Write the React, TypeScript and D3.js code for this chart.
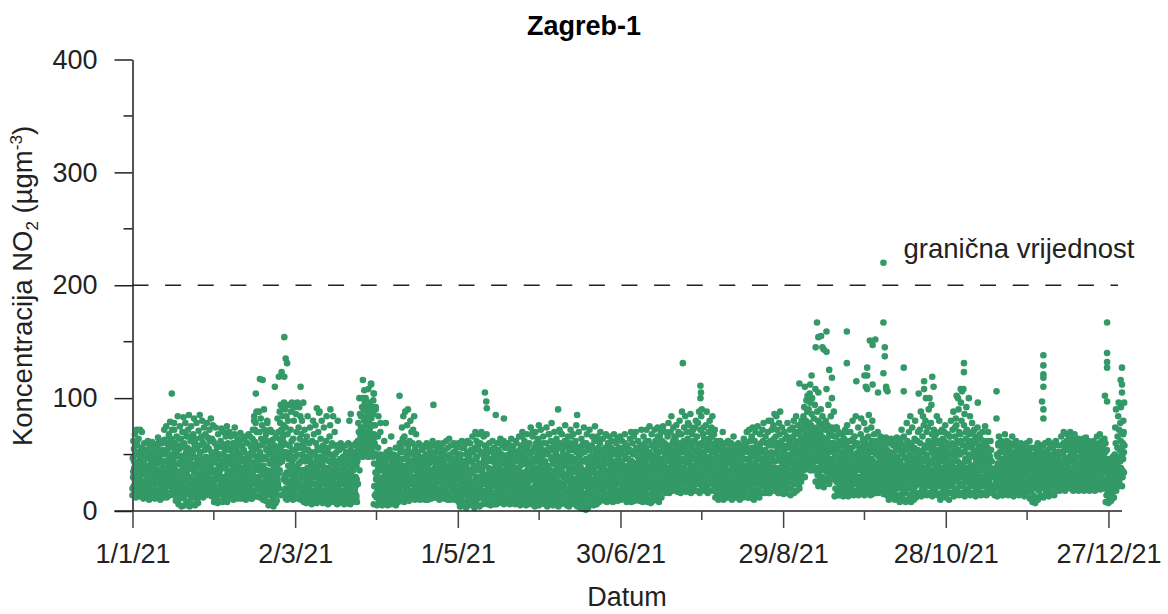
import React, { useEffect, useRef } from 'react';
import * as d3 from 'd3';

// Hourly NO2, one row per day of 2021 (estimates)
const dailyReadings: number[][] = [
  [14,47,30,62,22,55,38,18,68],[24,58,12,41,33,72,18,50,28],[16,36,64,27,52,44,13,72,21],[31,19,56,40,70,25,48,14,35],
  [11,43,26,60,34,17,52,22,38],[20,54,13,31,47,24,62,36,16],[28,10,40,58,19,50,33,44,23],[15,35,61,26,46,12,54,30,41],
  [21,49,11,37,59,18,28,43,33],[13,31,56,24,42,17,52,36,62],[25,46,10,35,60,20,29,51,15],[17,39,54,12,27,44,33,63,22],
  [19,50,34,14,75,28,44,60,38],[26,13,57,40,68,22,33,48,79],[16,37,64,29,50,72,20,43,56],[30,14,46,78,24,60,36,53,18],
  [9,41,26,66,15,50,32,84,21,58],[6,35,18,55,43,75,12,28,64,47],[23,4,49,31,70,14,59,38,83,20],[11,60,27,5,44,78,35,17,52,66],
  [33,8,22,56,40,72,15,48,85,26],[17,4,45,30,62,11,75,37,54,24],[6,28,52,19,68,41,13,82,34,59],[24,5,38,64,16,47,78,29,10,55],
  [13,44,7,33,71,22,58,40,85,18],[27,52,15,38,66,21,46,80,32,59],[12,36,60,25,74,43,18,54,31,68],[20,48,14,33,78,57,26,42,65,36],
  [30,15,55,23,72,40,62,19,47,82],[18,38,13,64,28,50,76,34,44,22],
  [25,8,43,60,16,34,74,52,11,29],[12,36,56,21,7,46,68,31,18,40],[33,15,50,9,26,62,41,73,20,57],[17,44,8,30,58,24,70,38,13,49],
  [27,54,12,38,66,19,45,31,75,8],[10,34,60,22,48,15,70,28,42,54],
  [29,12,46,66,20,36,55,25,41,16],[18,50,10,32,60,24,43,68,14,37],[26,14,56,38,20,47,30,64,11,52],[12,41,28,62,17,34,50,22,69,44],
  [32,11,46,25,57,37,16,64,29,52],[19,54,13,35,44,24,66,40,10,28],[22,38,12,60,31,50,17,43,68,26],[14,47,28,66,36,20,58,11,41,52],
  [24,11,54,33,72,43,18,62,29,84],[16,36,61,26,78,48,13,55,70,40],[30,13,44,70,22,58,36,88,19,50],[12,52,26,82,38,64,18,46,76,32],
  [20,40,10,60,34,90,24,72,48,15],[27,9,46,68,17,55,36,80,22,62],[14,34,5,50,25,60,42,19,72,30],[8,28,44,15,54,36,22,63,11,48],
  [4,24,40,12,58,32,18,50,7,44],[15,38,9,56,28,82,46,21,70,33],
  [42,64,50,88,56,78,46,94,60,72],[48,70,44,84,58,92,66,76,52,96],[14,60,30,90,20,74,26,52,84,34],[10,32,68,18,80,26,46,94,16,58],
  [24,12,50,72,34,88,18,62,96,42],[16,40,10,64,28,80,54,20,92,36],[30,14,48,86,22,70,38,58,96,12],[11,56,26,74,42,92,18,64,34,84],
  [22,10,44,68,30,80,50,15,60,36],[14,36,8,56,24,72,44,18,62,30],[28,7,48,66,16,38,84,22,54,32],[10,34,60,20,46,74,26,14,52,40],
  [24,6,42,62,17,34,80,50,12,68],[16,30,8,52,24,76,40,60,19,46],[7,38,20,56,12,70,28,45,87,33],[22,10,48,32,64,16,54,26,80,40],
  [13,42,7,58,24,36,74,18,50,30],[28,9,46,16,62,34,84,22,54,12],[18,6,38,56,26,44,14,66,30,76],[12,32,50,20,8,42,60,24,36,15],
  [26,8,44,14,34,58,20,50,12,38],[10,30,52,18,40,6,58,24,44,34],[22,7,36,54,16,28,46,12,60,32],[14,42,9,26,56,34,18,48,8,38],
  [24,6,46,16,36,58,28,12,52,20],[9,32,50,20,42,7,60,26,38,14],[28,12,44,6,54,18,34,48,24,58],[16,36,8,58,26,46,12,40,20,52],
  [10,30,50,22,60,14,40,28,8,44],[48,62,56,78,52,70,60,100,50,86],[50,66,54,84,60,74,48,92,58,100],
  [48,72,56,90,62,80,52,96,66,58],[50,64,76,54,94,70,60,86,48,82],[52,78,48,66,96,58,88,74,62,50],[50,82,56,68,92,60,76,48,98,64],
  [6,42,22,60,14,76,34,90,50,28],[12,30,5,50,20,66,38,84,26,46],[8,24,42,14,36,50,6,28,18,46],[20,5,38,12,30,48,24,8,42,16],
  [7,26,44,16,34,10,50,22,38,13],[18,5,36,24,46,9,30,14,51,26],[12,40,6,28,48,17,35,21,8,44],[24,9,33,14,50,6,38,20,45,28],
  [15,42,5,26,36,12,48,20,32,9],[8,30,46,18,40,24,60,13,52,34],[22,10,56,34,74,16,46,64,28,84],[14,40,8,66,24,52,88,30,18,60],
  [28,12,48,76,20,36,90,58,10,42],[9,34,62,16,50,80,26,44,14,70],[24,12,44,60,30,72,18,52,38,84],[16,36,10,56,26,46,68,20,40,30],
  [12,32,52,22,42,14,60,28,48,36],[25,10,46,18,36,58,24,12,54,30],[16,40,12,30,56,20,48,26,38,10],[28,14,50,22,34,60,16,44,12,38],
  [10,26,42,58,18,34,50,24,14,46],[20,36,11,52,28,44,16,62,32,24],[13,30,48,22,58,38,12,26,52,42],[24,12,40,56,18,32,46,14,60,28],
  [16,34,10,52,26,42,20,58,30,48],[28,14,44,20,36,60,12,50,24,38],[11,32,54,18,40,26,48,14,62,34],[22,40,12,56,30,46,16,36,64,24],
  [14,30,10,48,24,58,38,18,44,34],[26,12,42,20,52,32,60,15,38,28],[16,36,11,46,22,56,28,42,14,50],
  [12,38,60,8,20,16,50,30,4,44],[4,26,50,12,40,62,20,34,8,56],[8,32,16,56,24,44,4,36,60,18],[22,3,40,14,52,28,62,10,46,34],
  [12,30,5,48,20,60,36,16,54,26],[6,24,44,14,66,34,52,20,8,40],[18,3,38,56,26,70,12,46,30,62],[10,28,48,5,36,68,16,54,22,42],
  [4,20,42,60,30,12,52,70,24,36],[14,34,6,50,26,66,18,44,8,58],[24,8,40,16,56,32,68,12,48,28],[6,30,52,20,38,12,60,26,46,16],
  [18,5,36,54,24,10,44,30,62,14],[8,28,46,16,56,34,6,50,22,40],[22,12,42,6,32,60,18,48,26,54],[7,26,38,52,14,44,30,64,20,10],
  [16,34,8,50,24,58,12,42,28,62],[6,22,44,14,36,56,30,10,48,20],[26,9,40,18,60,32,50,12,38,24],[14,30,6,46,22,54,34,64,16,42],
  [8,24,42,12,56,28,38,18,50,32],[20,6,36,52,14,30,60,24,44,10],[12,28,48,8,38,22,66,16,54,34],[5,18,40,26,58,12,46,30,70,20],
  [24,10,34,50,16,42,62,6,28,54],[14,30,5,46,20,68,36,56,12,40],[8,26,44,18,60,32,50,14,38,74],[20,6,40,12,52,28,66,36,16,46],
  [10,32,56,22,4,44,70,18,38,60],[26,6,48,14,36,64,24,52,10,76],[5,18,42,30,58,12,72,46,22,34],[16,38,8,54,26,66,40,14,50,28],
  [24,6,44,16,32,60,20,74,36,10],[4,28,50,12,40,68,24,56,18,34],[14,36,8,62,22,46,78,30,54,16],[26,5,42,18,56,34,70,12,48,24],
  [8,30,52,20,64,38,14,44,6,58],[18,4,36,26,48,72,10,60,32,42],[6,24,46,14,68,34,54,20,40,12],[22,8,40,58,16,30,76,48,26,62],
  [12,32,5,50,20,44,66,14,56,36],[4,26,40,10,60,30,72,18,48,22],[16,34,8,54,24,44,68,12,38,58],[6,20,46,28,62,14,36,76,52,10],
  [24,4,42,16,56,32,70,48,12,30],[8,28,3,50,18,38,64,22,58,44],[14,2,34,60,24,74,44,10,52,30],[5,22,1,46,12,36,68,26,56,16],
  [18,3,40,10,54,30,72,20,48,34],[8,26,44,16,58,36,66,12,50,24],[20,5,38,14,62,28,75,46,10,54],[12,30,6,48,22,66,40,16,56,34],
  [24,8,44,18,60,32,70,14,50,38],[10,28,52,20,40,64,16,46,34,24],[16,36,9,56,26,44,68,12,50,30],[8,22,42,14,60,32,52,24,66,36],
  [26,10,46,18,34,56,12,40,62,28],[14,32,8,50,22,42,68,16,36,54],[24,10,44,28,60,14,52,34,18,64],[9,30,48,18,38,56,24,12,42,66],
  [16,34,10,52,26,44,62,20,36,14],[26,12,40,18,56,30,68,22,48,10],[12,28,46,8,36,58,16,52,24,40],[20,36,10,54,28,64,14,42,32,70],
  [8,24,44,16,60,34,50,20,38,66],[14,30,9,52,22,42,70,26,56,18],[24,10,38,16,48,62,30,54,12,44],[9,20,42,28,58,14,36,72,50,26],
  [16,32,8,46,24,66,38,54,12,60],[26,10,44,18,56,30,72,22,48,36],[8,22,40,14,62,34,52,75,26,46],[12,30,7,50,20,68,38,58,16,44],
  [24,9,42,18,56,28,72,34,48,62],[10,20,38,14,60,30,50,74,24,44],[16,34,8,52,26,66,40,58,18,70],[20,12,46,24,62,36,54,75,30,42],
  [18,40,26,60,22,50,34,70,44,56],[20,32,52,24,66,38,46,78,28,58],[16,44,28,56,36,70,22,50,84,40],[24,38,18,60,30,74,48,54,34,66],
  [20,42,26,64,36,52,76,30,58,46],[17,34,50,24,70,40,60,28,80,44],[22,46,16,56,32,68,38,88,26,52],[18,38,28,62,44,74,24,54,34,84],
  [24,42,17,58,30,70,48,36,64,78],[20,34,52,26,76,44,60,30,86,40],[16,46,24,56,36,68,28,50,72,62],[22,38,18,60,32,74,46,54,80,30],
  [18,42,26,66,36,52,78,24,58,44],[24,34,16,50,30,72,40,60,84,46],[20,44,28,58,36,68,52,74,26,64],[18,38,24,62,46,76,32,54,88,42],
  [22,40,16,56,34,70,28,64,48,80],[18,36,26,60,44,74,30,52,66,84],[24,46,18,54,34,68,40,58,72,30],
  [12,30,48,20,60,36,16,54,26,42],[22,10,40,16,56,32,46,26,62,14],[14,36,20,52,28,44,12,58,34,24],[10,26,46,18,38,60,22,50,32,14],
  [18,34,12,54,24,42,30,62,20,48],[12,28,44,20,56,36,14,50,26,60],[24,10,38,16,52,30,46,22,58,34],[14,32,50,18,40,26,56,12,44,28],
  [20,36,12,48,24,60,32,16,54,40],[10,28,44,22,56,34,14,50,20,38],[18,34,12,52,26,64,40,22,46,58],[14,30,46,20,58,36,70,24,52,12],
  [22,38,12,54,28,72,44,18,62,34],[12,32,50,20,66,38,56,26,74,16],[18,36,10,48,24,62,42,30,70,54],[14,28,46,18,58,34,75,24,50,40],
  [20,40,12,56,30,68,46,24,60,36],[16,32,52,22,72,44,62,28,78,38],[24,38,16,54,30,66,48,20,60,42],[18,34,50,26,70,42,80,30,58,22],
  [16,40,26,62,36,80,52,20,72,46],[20,32,58,24,76,44,64,30,86,38],[18,44,28,66,36,84,50,72,24,56],[24,38,16,60,32,78,48,68,28,88],
  [18,30,44,24,62,36,74,52,16,58],[22,38,15,54,28,70,46,34,64,20],[16,34,48,26,66,40,78,20,56,30],[20,42,26,60,36,72,50,14,64,44],
  [20,42,30,58,36,74,54,66,26,80],[16,34,50,24,70,44,62,30,84,40],[18,40,28,60,36,76,52,68,22,46],[20,46,32,56,38,72,26,64,80,50],
  [38,54,44,72,60,84,50,66,92,76],[40,58,46,68,80,52,98,62,74,88],[38,50,70,56,90,44,78,62,104,66],[42,60,48,76,54,86,66,100,40,72],
  [36,56,44,82,62,72,50,94,68,108],[26,46,60,38,74,54,88,32,66,80],[22,44,34,62,52,78,28,70,58,90],[24,50,38,66,30,84,56,74,44,62],
  [21,36,58,46,72,28,64,80,52,40],[26,48,34,62,76,42,56,94,30,70],[24,40,54,32,68,46,84,60,36,74],[28,44,60,36,52,72,40,88,56,66],
  [13,32,50,20,66,42,58,26,74,36],[18,38,14,54,28,70,46,62,34,22],[14,30,46,24,60,38,52,18,68,34],[20,36,13,50,28,64,42,56,24,72],
  [16,34,48,22,58,40,76,30,52,14],[13,28,44,20,62,36,54,26,70,46],[22,38,16,56,30,48,80,24,64,42],[14,32,50,18,66,40,58,28,84,36],
  [18,36,24,60,44,52,30,74,14,48],[15,28,46,20,56,36,68,26,82,42],[20,40,16,52,30,64,44,24,58,78],[14,34,48,22,62,38,56,28,72,46],
  [16,30,50,26,66,42,85,20,54,36],[18,38,14,58,32,74,46,24,62,80],[15,26,44,20,54,34,68,40,60,28],[20,36,16,50,28,62,42,24,56,70],
  [16,32,48,20,60,38,54,26,44,66],[18,30,46,24,56,36,64,22,40,50],[15,34,20,52,28,44,60,26,38,65],[18,24,42,14,54,32,48,22,60,38],
  [10,28,46,16,60,36,52,22,40,64],[12,32,20,50,26,44,58,14,38,30],[16,26,10,46,34,62,22,54,40,65],[11,30,48,20,38,58,26,44,14,34],
  [8,24,44,14,60,32,52,72,20,38],[12,30,50,18,40,66,26,56,9,34],[16,36,8,54,24,46,78,30,62,42],[10,28,44,20,70,34,56,14,50,84],
  [14,32,8,60,24,42,74,36,52,18],[18,40,10,56,28,64,46,80,22,34],[12,26,48,16,62,38,54,30,70,42],
  [16,34,50,24,72,44,60,30,88,40],[13,28,46,20,66,36,84,54,26,76],[18,38,24,58,32,80,44,100,50,70],[14,30,48,22,74,40,62,90,34,56],
  [16,36,26,60,44,78,30,94,52,68],[13,24,42,20,56,34,72,48,64,28],[18,32,50,26,68,40,60,84,36,54],[14,28,46,22,62,38,80,52,70,30],
  [10,26,44,16,58,34,72,24,50,64],[14,30,48,20,62,38,56,26,76,42],[12,28,40,18,54,32,68,46,60,22],[16,34,10,50,24,66,42,58,30,80],
  [16,34,24,60,42,72,52,28,88,36],[13,28,48,20,66,38,58,82,30,76],[18,38,26,62,44,100,54,90,32,70],[14,30,50,22,68,40,96,60,80,36],
  [16,34,24,58,42,108,52,76,30,86],[13,28,46,20,64,38,92,56,72,26],[18,36,26,60,44,100,50,68,32,84],[14,30,48,22,62,40,56,78,34,70],
  [16,36,24,54,40,72,48,60,28,66],[13,26,44,20,60,36,52,74,30,42],[18,34,24,56,42,68,48,28,64,38],[14,30,46,22,58,38,70,52,26,62],
  [16,36,26,54,42,75,48,28,60,34],[14,28,44,20,56,32,70,40,24,50],[16,32,24,48,38,62,20,54,30,44],
  [22,32,18],[14,38,26],
  [13,30,48,22,58,36,66,42,26,52],[18,34,24,52,40,62,28,46,14,56],[14,28,44,20,60,36,54,30,68,42],[18,32,26,50,38,62,22,46,56,34],
  [14,30,44,20,54,36,48,26,60,40],[16,34,24,52,42,66,28,46,36,58],[13,26,42,20,50,34,58,30,44,62],[16,30,24,46,38,54,28,56,42,34],
  [14,32,20,44,28,50,36,60,24,48],[18,28,40,22,52,34,58,26,46,38],[13,30,24,48,36,56,20,42,60,32],[16,34,20,44,28,54,38,50,24,62],
  [11,26,40,18,50,30,56,36,46,22],[8,24,38,14,48,28,44,56,20,34],
  [7,22,36,12,46,30,52,26,42,60],[10,26,40,18,50,32,44,24,56,36],[14,30,22,44,34,52,26,48,38,58],[12,28,42,20,50,32,60,24,46,36],
  [16,34,24,44,30,54,38,48,26,62],[13,26,40,20,50,34,58,28,44,36],[16,30,22,46,36,56,28,42,50,60],[14,28,40,24,52,34,62,44,20,38],
  [18,32,24,48,38,58,28,44,52,36],[18,28,40,24,52,34,66,44,30,58],[20,36,26,50,42,70,32,60,46,54],[18,32,24,46,38,62,28,56,68,44],
  [22,40,30,54,36,64,48,26,58,70],[20,34,26,50,44,66,30,60,38,56],[18,38,24,52,30,68,46,62,36,42],[22,32,28,48,40,58,26,54,64,36],
  [18,28,42,34,54,24,48,60,38,32],[22,40,28,52,36,64,44,30,58,26],[18,36,24,50,32,56,44,65,28,48],
  [20,30,40,26,52,36,62,46,34,58],[18,32,24,44,36,56,26,50,40,60],
  [20,34,26,46,38,62,30,54,42,24],[18,28,44,32,58,24,50,36,66,40],[22,36,26,52,40,60,30,46,68,34],[19,30,42,24,54,34,62,46,28,56],[20,38,28,48,36,64,44,26,52,60],
  [8,22,34,14,44,26,38,18,30,46],[7,20,32,12,42,28,36,16,46,24],[9,24,36,16,40,30,48,20,34,12],
  [22,36,28,50,42,74,32,60,90,46],[24,40,30,56,66,48,84,34,96,72],[26,38,54,44,78,62,92,34,70,50],[22,36,30,60,46,80,70,52,96,58]
];

// Second pass over the dense band, one row per two days (estimates)
const bandReadings: number[][] = [
  [20,35,44,27,52,16,60],[18,29,48,23,39,14,55],[26,42,19,33,50,15,37],[21,34,46,28,53,17,41],
  [22,36,56,29,47,65,17],[31,18,43,60,25,51,72],[23,38,12,54,30,66,46],[16,41,27,61,34,72,50],
  [20,35,49,10,64,28,43],[24,40,17,57,33,70,47],[19,31,53,25,66,39,14],[22,37,48,28,60,15,43],
  [21,33,14,51,27,64,40],[18,30,45,24,55,37,15],[23,42,17,35,52,27,62],[19,28,47,33,57,15,38],
  [21,36,16,50,28,59,42],[24,38,18,56,31,47,70],[26,17,43,33,60,50,74],[19,29,14,48,36,58,25],
  [24,16,38,52,30,46,61],[20,33,12,50,27,42,57],[35,64,50,80,72,58,88],[22,44,30,70,38,58,16],
  [24,40,18,64,32,54,78],[20,34,15,58,44,70,26],[28,46,18,66,36,54,24],[20,36,14,52,44,62,28],
  [18,32,11,48,26,40,58],[22,38,13,54,30,46,24],[20,34,12,50,28,42,56],[16,36,24,48,30,54,12],
  [20,32,14,44,26,52,38],[18,30,42,24,50,36,14],[22,40,12,54,28,34,46],[18,32,24,48,56,38,14],
  [22,36,16,50,30,44,58],
  [46,32,70,24,58,16,80],[20,30,14,44,36,12,48],[18,34,26,44,11,38,50],[22,30,14,42,26,36,48],[18,30,12,44,24,52,36],
  [60,74,56,84,68,52,90],[58,80,66,90,54,72,62],[60,76,52,86,68,58,92],
  [16,34,56,22,44,70,28],[24,44,14,62,34,78,52],[20,40,26,54,34,66,15],[18,36,24,44,56,30,13],
  [20,30,44,24,38,52,14],[22,34,16,46,28,40,54],[18,32,24,44,38,50,15],[22,28,40,16,52,32,46],
  [18,34,24,44,30,56,16],[22,38,16,50,30,42,54],[20,32,26,44,36,50,14],[24,36,18,46,28,54,40],
  [20,30,16,42,26,48,34],[22,10,38,26,50,16,44],[15,26,40,10,52,34,58],[22,34,14,46,28,56,38],
  [20,8,38,26,50,14,60],[16,30,44,12,54,24,38],[20,36,10,48,28,58,14],[24,12,40,18,52,32,46],
  [18,30,14,44,24,54,36],[22,32,12,46,28,50,38],[16,28,42,20,52,34,60],[24,36,14,48,30,56,18],
  [20,34,12,44,26,58,40],[16,28,48,22,38,62,30],[22,36,12,50,26,44,66],[18,30,14,46,34,58,24],
  [20,38,12,52,28,44,70],[14,30,44,22,56,36,62],[22,34,12,48,28,60,42],[18,26,40,14,54,32,68],
  [20,36,12,48,26,60,42],[14,28,44,20,56,34,70],[22,38,8,50,30,62,44],[16,28,42,20,54,34,66],
  [24,34,8,46,28,58,40],[18,30,5,42,22,54,36],[16,28,8,44,24,60,36],[22,32,12,46,28,56,40],
  [18,34,14,42,26,52,62],[22,30,14,44,24,54,38],[18,36,14,50,28,44,60],[22,30,16,40,26,52,38],
  [20,34,14,44,30,56,24],[18,28,40,14,50,34,60],[24,36,14,46,30,54,42],[18,30,12,42,24,52,36],
  [20,34,16,44,28,56,40],[16,30,42,22,52,36,62],[24,36,14,48,30,58,44],[18,28,40,14,54,34,66],
  [24,36,18,46,30,58,42],[18,30,16,44,26,54,38],[26,38,20,50,32,62,44],[24,34,46,30,56,40,68],
  [28,38,22,52,34,60,46],[24,36,48,30,58,42,70],[26,40,20,50,34,62,46],[24,36,48,30,56,42,72],
  [28,38,22,50,34,60,46],[24,36,46,30,54,42,66],[26,40,22,52,32,62,46],[22,36,48,28,56,42,70],
  [26,40,22,52,34,60,46],[22,36,46,30,58,42,66],[26,38,20,50,32,56,44],[22,34,46,28,54,40,60],
  [18,30,24,40,34,46,52],[22,32,16,42,26,50,36],[18,28,38,22,48,32,54],[16,30,40,24,46,36,52],
  [22,32,16,44,28,50,38],[18,34,24,44,30,52,60],[22,36,16,48,28,56,40],[18,30,42,24,50,36,58],
  [20,34,26,46,30,56,42],
  [24,38,44,32,56,48,70],[28,42,34,60,50,74,36],[30,46,38,64,54,78,42],[36,48,42,62,56,70,52],
  [44,56,50,66,60,72,46],[42,54,48,64,58,76,50],[36,50,44,66,56,72,40],[30,46,38,60,52,74,34],
  [26,42,34,58,48,68,30],[28,44,36,60,50,70,32],[20,38,28,52,44,62,32],[18,34,26,48,40,58,30],
  [22,38,30,52,44,62,34],[20,34,26,50,40,58,30],[24,36,28,52,42,60,32],
  [22,36,28,50,42,60,32],[20,34,26,46,38,56,30],[24,38,30,52,44,62,34],[20,36,28,50,42,60,32],
  [22,38,30,54,44,64,34],[20,34,26,48,40,58,30],[22,36,28,46,40,56,32],[18,32,24,44,36,54,28],
  [16,30,24,44,36,52,28],[18,34,26,46,38,56,30],[16,30,24,44,36,60,28],[20,36,28,50,42,62,32],
  [22,38,30,54,46,70,34],[20,36,28,52,44,66,32],[22,38,30,56,46,74,34],[20,34,28,50,42,62,32],
  [22,36,30,52,44,70,34],[20,34,28,48,40,60,32],[22,38,30,50,42,64,34],[20,34,26,48,40,58,30],
  [22,36,28,50,42,62,32],[26,44,34],
  [22,36,28,50,42,60,32],[20,34,26,46,38,54,30],[22,36,28,48,42,56,32],[20,32,26,44,38,52,30],
  [22,34,28,46,40,54,32],[18,32,26,44,38,52,30],[20,34,28,46,40,50,24],[22,36,28,48,42,54,32],
  [24,36,30,50,42,58,34],[22,34,28,46,40,54,32],[24,36,30,48,42,56,34],[22,34,26,46,38,52,30],
  [26,38,30,52,44,60,34],[28,40,34,54,46,62,36],[26,38,32,50,44,58,34],[24,36,30,48,42,56,32],
  [26,38,32,50,44,60,34],[24,34,30,46,40,52,28],[22,36,28,48,42,56,30],[26,38,32,50,44,58,34],[24,36,28,46,40,54,30],
  [14,24,30,20,36,28,40],[12,26,34,18,42,30,22],[30,44,38,56,50,68,34]
];

// Isolated readings above the main band: [day, value]
const peakDays = [14.5,54,56,56.5,57,55,56,52.5,47,48,45.5,62,63,59.5,68,69,73,74,80,80.5,85,85.5,86,88,89,91.5,98.5,111,130,130.5,130.7,134,137,157,164,203,209,209.5,209.7,209.5,210,246,249,250,250.5,252,252.5,253,254,254.5,255,256,256,257,258,263.5,263.5,267,270,270.5,271,271,272,273,274,277,277,277.5,277.5,277,278,278.5,284.5,284.5,292,295,295.5,306.7,306.7,305.5,311.8,318.7,318.7,336,336,336,336,336,335.5,336,336,359.5,359.5,359.5,359.5,358.7,359.5,365,364.5,365,365,248,250,253,256,258,271,273,275,278,87,88,89,290,292,294,304,306];
const peakValues = [104,119,154,135,131,123,119,110,117,116,104,110,96,92,91,88,90,84,80,86,116,107,100,113,104,78,102,94,105,97,91,85,82,90,85,131,88,111,105,100,90,113,102,96,120,145,167,154,155,145,143,159,141,125,118,159,131,115,120,110,127,120,151,147,152,167,220,145,137,122,110,106,127,106,115,119,110,131,123,108,96,106,82,138,129,121,118,110,97,90,82,167,140,132,127,102,97,127,116,112,105,110,112,105,108,100,108,112,105,108,108,112,104,104,108,100,102,106];

const yTicks = [0, 100, 200, 300, 400];
const yMinorTicks = [50, 150, 250, 350];
const xTickDays = [0, 60, 120, 180, 240, 300, 360];
const xMinorDays = [30, 90, 150, 210, 270, 330];
const xTickLabels = ['1/1/21', '2/3/21', '1/5/21', '30/6/21', '29/8/21', '28/10/21', '27/12/21'];
const limitValue = 200;

const width = 1168;
const height = 614;
const green = '#339966';
const font = '"Liberation Sans", Arial, sans-serif';

const App = () => {
  const svgRef = useRef<SVGSVGElement>(null);

  useEffect(() => {
    const svg = d3.select(svgRef.current);
    svg.selectAll('*').remove();

    const x = d3.scaleLinear().domain([0, 365]).range([132.5, 1122]);
    const y = d3.scaleLinear().domain([0, 400]).range([511, 59.5]);

    // One point per reading, spread through its day (or its two days for the band rows)
    const points: [number, number][] = [];
    dailyReadings.forEach((row, day) => {
      row.forEach((v, i) => points.push([day + i / row.length, v]));
    });
    bandReadings.forEach((row, k) => {
      row.forEach((v, i) => points.push([k * 2 + (i * 2) / row.length, v]));
    });
    peakDays.forEach((d, i) => points.push([d, peakValues[i]]));

    svg.append('g')
      .selectAll('circle')
      .data(points)
      .join('circle')
      .attr('cx', d => x(d[0]))
      .attr('cy', d => y(d[1]))
      .attr('r', 3.3)
      .attr('fill', green);

    // Axes
    const yAxis = svg.append('g').attr('transform', `translate(${x(0)},0)`)
      .call(d3.axisLeft(y).tickValues(yTicks).tickSize(18).tickSizeOuter(0).tickPadding(17));
    yAxis.select('.domain').attr('stroke', '#555').attr('stroke-width', 2);
    yAxis.selectAll('.tick line').attr('stroke', '#222').attr('stroke-width', 1.5);
    yAxis.selectAll('text').attr('font-size', 27).attr('font-family', font).attr('fill', '#222').attr('dy', '0.32em');
    svg.append('g').selectAll('line').data(yMinorTicks).join('line')
      .attr('x1', x(0) - 9).attr('x2', x(0)).attr('y1', d => y(d)).attr('y2', d => y(d))
      .attr('stroke', '#222').attr('stroke-width', 1.5);

    const xAxis = svg.append('g').attr('transform', `translate(0,${y(0)})`)
      .call(d3.axisBottom(x).tickValues(xTickDays).tickSize(17).tickSizeOuter(0).tickPadding(16)
        .tickFormat((_, i) => xTickLabels[i]));
    xAxis.select('.domain').attr('d', `M${x(0) - 18},0H${x(365)}`).attr('stroke', '#222').attr('stroke-width', 1.5);
    xAxis.selectAll('.tick line').attr('stroke', '#444').attr('stroke-width', 1.5);
    xAxis.selectAll('text').attr('font-size', 27).attr('font-family', font).attr('fill', '#222');
    svg.append('g').selectAll('line').data(xMinorDays).join('line')
      .attr('x1', d => x(d)).attr('x2', d => x(d)).attr('y1', y(0)).attr('y2', y(0) + 9)
      .attr('stroke', '#444').attr('stroke-width', 1.5);

    // Limit line
    svg.append('line')
      .attr('x1', x(0)).attr('x2', 1118).attr('y1', y(limitValue)).attr('y2', y(limitValue))
      .attr('stroke', '#222').attr('stroke-width', 1.5).attr('stroke-dasharray', '16 16.6');

    const text = (tx: number, ty: number, s: string, size: number) => svg.append('text')
      .attr('x', tx).attr('y', ty).attr('font-family', font).attr('font-size', size)
      .attr('fill', '#222').attr('text-anchor', 'middle').text(s);

    text(584, 35, 'Zagreb-1', 27).attr('font-weight', 'bold').attr('fill', '#000');
    text(627, 606, 'Datum', 27);
    text(1019, 258, 'granična vrijednost', 27.5);

    // Y title with sub and superscript
    const yTitle = svg.append('text')
      .attr('transform', 'translate(32,286) rotate(-90)')
      .attr('font-family', font).attr('font-size', 27.5).attr('fill', '#222')
      .attr('text-anchor', 'middle');
    yTitle.append('tspan').text('Koncentracija NO');
    yTitle.append('tspan').attr('font-size', 17).attr('dy', 6).text('2');
    yTitle.append('tspan').attr('dy', -6).text(' (µgm');
    yTitle.append('tspan').attr('font-size', 17).attr('dy', -10).text('-3');
    yTitle.append('tspan').attr('dy', 10).text(')');
  }, []);

  return (
    <svg
      ref={svgRef}
      width={width}
      height={height}
      style={{ position: 'absolute', left: 0, top: 0, background: '#fff' }}
    />
  );
};

export default App;
